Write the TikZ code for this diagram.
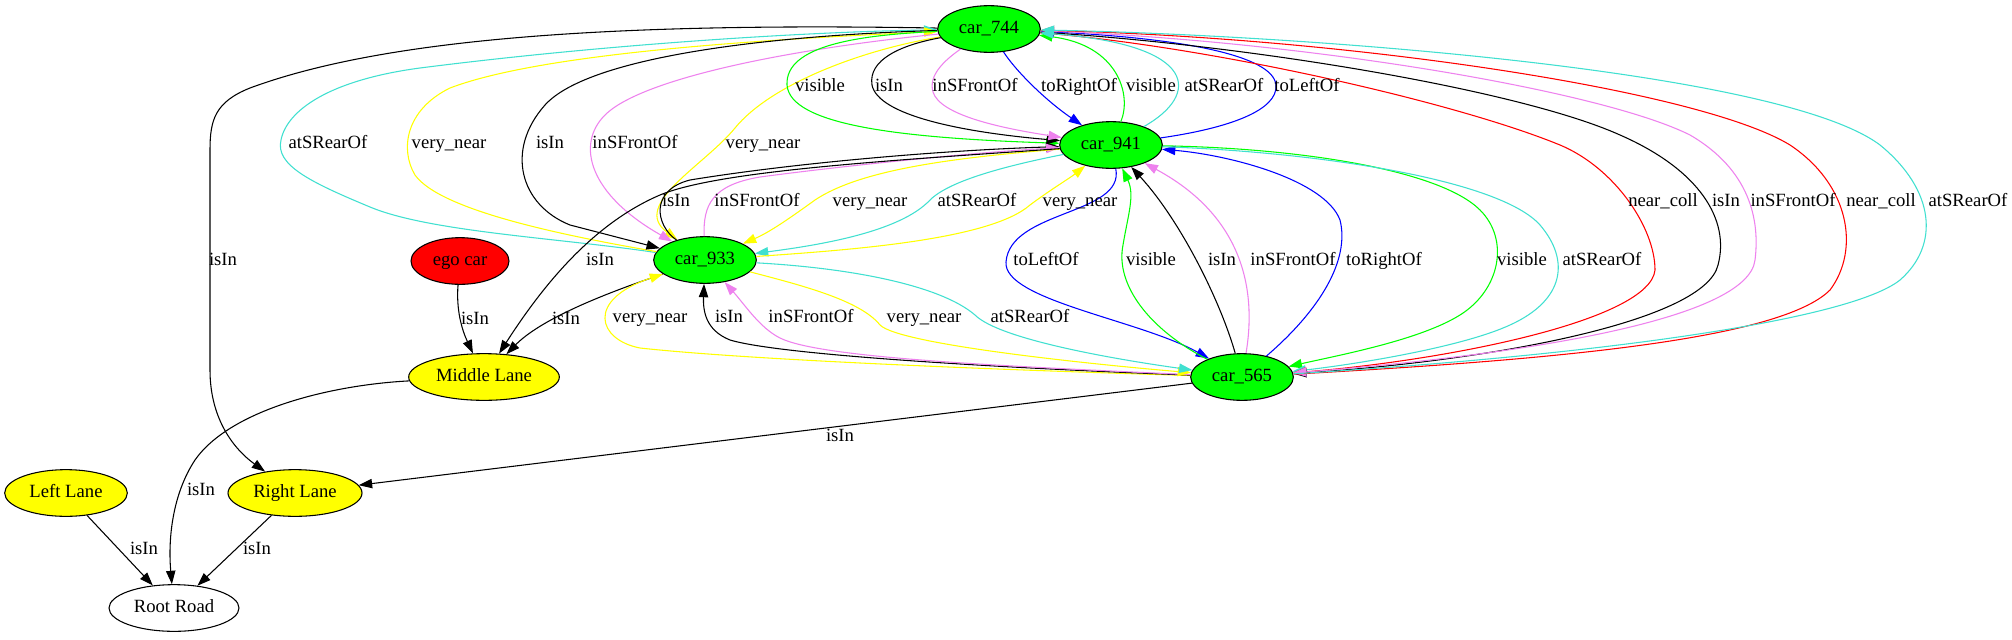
\documentclass[tikz,border=0pt]{standalone}
\usepackage{fontspec}
\setmainfont{Liberation Serif}
\usetikzlibrary{shapes.geometric,arrows.meta}
\definecolor{gvgreen}{HTML}{00FF00}
\definecolor{gvcyan}{HTML}{40E0D0}
\definecolor{gvviolet}{HTML}{EE82EE}
\definecolor{gvyellow}{HTML}{FFFF00}
\definecolor{gvblue}{HTML}{0000FF}
\definecolor{gvred}{HTML}{FF0000}
\newcommand\gvfont{\fontsize{14pt}{16pt}\selectfont}
\tikzset{
  gnode/.style={ellipse, draw, line width=0.8pt, minimum height=35pt, inner sep=0pt,
    font=\gvfont, text height=10pt, text depth=3pt},
  car/.style={gnode, fill=gvgreen, minimum width=77pt},
  lane/.style={gnode, fill=gvyellow},
  lbl/.style={inner sep=0pt, font=\gvfont, text height=10pt, text depth=3pt},
  e/.style={line width=0.8pt, -{Triangle[length=10pt,width=7pt]}},
}
\begin{document}
\begin{tikzpicture}[x=0.75pt, y=-0.75pt]
\fill[white] (0,0) rectangle (2012,639);
\useasboundingbox (0,0) rectangle (2012,639);

% nodes
\node[car] (c744) at (989,29) {car\_744};
\node[car] (c941) at (1111,145) {car\_941};
\node[car] (c933) at (705,260) {car\_933};
\node[car] (c565) at (1242,377) {car\_565};
\node[gnode, fill=gvred, minimum width=73.5pt] (ego) at (460,261) {ego car};
\node[lane, minimum width=113pt] (mid) at (484,377) {Middle Lane};
\node[lane, minimum width=92pt] (ll) at (66,493) {Left Lane};
\node[lane, minimum width=100.5pt] (rl) at (295,493) {Right Lane};
\node[gnode, minimum width=97.5pt] (root) at (174,608) {Root Road};

% edges: car_744 to the left
\draw[e] (c744) .. controls (600,22) and (380,40) .. (250,88) .. controls (215,102) and (210,120) .. (210,150) -- (210,370) .. controls (210,420) and (235,450) .. (rl);
\draw[e, gvcyan] (c933) .. controls (560,238) and (430,232) .. (370,207) .. controls (310,182) and (275,165) .. (281,140) .. controls (287,110) and (330,80) .. (420,68) .. controls (600,45) and (800,32) .. (c744);
\draw[e, gvyellow] (c933) .. controls (560,235) and (440,210) .. (415,175) .. controls (400,150) and (405,110) .. (450,88) .. controls (550,50) and (800,38) .. (c744);
\draw[e] (c744) .. controls (780,35) and (590,55) .. (545,105) .. controls (505,150) and (520,205) .. (570,225) -- (c933);
\draw[e, gvyellow] (c744) .. controls (860,50) and (770,85) .. (735,128) .. controls (705,165) and (630,205) .. (c933);
\draw[e, gvviolet] (c744) .. controls (780,50) and (640,80) .. (605,115) .. controls (575,145) and (590,195) .. (c933);

% car_744 <-> car_941
\draw[e, gvgreen] (c744) .. controls (860,35) and (785,45) .. (787,85) .. controls (790,125) and (900,138) .. (c941);
\draw[e] (c744) .. controls (900,45) and (868,60) .. (872,85) .. controls (878,115) and (960,132) .. (c941);
\draw[e, gvviolet] (c744) .. controls (945,60) and (928,75) .. (933,92) .. controls (940,115) and (1000,128) .. (c941);
\draw[e, gvblue] (c744) .. controls (1015,70) and (1045,100) .. (c941);
\draw[e, gvgreen] (c941) .. controls (1132,95) and (1118,45) .. (c744);
\draw[e, gvblue] (c941) .. controls (1230,128) and (1278,110) .. (1276,85) .. controls (1273,55) and (1180,38) .. (c744);

% car_933 <-> car_941
\draw[e] (c933) .. controls (655,225) and (650,190) .. (690,180) .. controls (800,162) and (950,150) .. (c941);
\draw[e, gvviolet] (c933) .. controls (703,205) and (712,185) .. (760,177) .. controls (850,165) and (980,152) .. (c941);
\draw[e, gvyellow] (c941) .. controls (950,158) and (860,170) .. (815,200) .. controls (790,218) and (770,232) .. (c933);
\draw[e, gvcyan] (c941) .. controls (1010,165) and (950,180) .. (930,200) .. controls (900,232) and (820,245) .. (c933);
\draw[e, gvyellow] (c933) .. controls (850,250) and (990,240) .. (1030,205) .. controls (1050,190) and (1070,178) .. (c941);

% lanes
\draw[e] (c941) .. controls (900,160) and (720,170) .. (660,195) .. controls (590,225) and (540,290) .. (mid);
\draw[e] (c933) .. controls (600,295) and (540,320) .. (mid);
\draw[e] (ego) .. controls (456,310) and (462,330) .. (mid);
\draw[e] (mid) .. controls (330,385) and (230,410) .. (195,460) .. controls (172,495) and (168,540) .. (root);
\draw[e] (ll) -- (root);
\draw[e] (rl) -- (root);
\draw[e] (c565) -- (rl);

% car_565 <-> car_933
\draw[e, gvyellow] (c565) .. controls (1000,370) and (750,360) .. (640,348) .. controls (598,340) and (585,300) .. (c933);
\draw[e] (c565) .. controls (1000,368) and (780,355) .. (730,340) .. controls (705,330) and (703,310) .. (c933);
\draw[e, gvviolet] (c565) .. controls (1000,366) and (820,358) .. (780,338) .. controls (760,328) and (745,305) .. (c933);
\draw[e, gvyellow] (c933) .. controls (800,285) and (860,300) .. (880,325) .. controls (900,345) and (1100,365) .. (c565);
\draw[e, gvcyan] (c933) .. controls (850,268) and (940,285) .. (975,315) .. controls (1000,340) and (1120,360) .. (c565);

% car_941 <-> car_565
\draw[e, gvblue] (c941) .. controls (1125,215) and (1010,210) .. (1006,262) .. controls (1003,300) and (1140,320) .. (c565);
\draw[e, gvgreen] (c565) .. controls (1150,330) and (1115,285) .. (1123,245) .. controls (1128,215) and (1135,195) .. (c941);
\draw[e] (c565) .. controls (1220,300) and (1180,220) .. (c941);
\draw[e, gvviolet] (c565) .. controls (1255,300) and (1250,220) .. (c941);
\draw[e, gvblue] (c565) .. controls (1320,310) and (1350,260) .. (1340,220) .. controls (1325,180) and (1230,155) .. (c941);
\draw[e, gvgreen] (c941) .. controls (1300,148) and (1440,170) .. (1480,210) .. controls (1510,240) and (1500,290) .. (1460,315) .. controls (1420,340) and (1340,355) .. (c565);
\draw[e, gvcyan] (c941) .. controls (1320,152) and (1500,180) .. (1540,225) .. controls (1570,260) and (1565,300) .. (1510,325) .. controls (1460,348) and (1350,365) .. (c565);

% car_744 <-> car_565
\draw[e, gvred] (c744) .. controls (1200,45) and (1450,100) .. (1560,145) .. controls (1615,168) and (1655,228) .. (1655,270) .. controls (1650,320) and (1450,360) .. (c565);
\draw[e] (c744) .. controls (1250,45) and (1520,90) .. (1620,135) .. controls (1700,170) and (1730,220) .. (1718,265) .. controls (1705,320) and (1500,360) .. (c565);
\draw[e, gvviolet] (c744) .. controls (1300,40) and (1600,90) .. (1690,135) .. controls (1750,170) and (1760,220) .. (1755,260) .. controls (1748,320) and (1520,355) .. (c565);
\draw[e, gvred] (c565) .. controls (1550,360) and (1780,340) .. (1830,290) .. controls (1860,250) and (1850,185) .. (1790,145) .. controls (1700,90) and (1350,38) .. (c744);
\draw[e, gvcyan] (c941) .. controls (1200,95) and (1200,45) .. (c744);
\draw[e, gvcyan] (c565) .. controls (1600,355) and (1850,320) .. (1900,280) .. controls (1940,245) and (1935,190) .. (1880,145) .. controls (1780,70) and (1300,35) .. (c744);

% labels
\node[lbl] (L1) at (223,261) {isIn};
\node[lbl] (L2) at (328,144) {atSRearOf};
\node[lbl] (L3) at (449,144) {very\_near};
\node[lbl] (L4) at (550,144) {isIn};
\node[lbl] (L5) at (635,144) {inSFrontOf};
\node[lbl] (L6) at (763,144) {very\_near};
\node[lbl] (L7) at (820,87) {visible};
\node[lbl] (L8) at (889,87) {isIn};
\node[lbl] (L9) at (975,87) {inSFrontOf};
\node[lbl] (L10) at (1079,87) {toRightOf};
\node[lbl] (L11) at (1151,87) {visible};
\node[lbl] (L12) at (1224,87) {atSRearOf};
\node[lbl] (L13) at (1307,87) {toLeftOf};
\node[lbl] (L14) at (676,202) {isIn};
\node[lbl] (L15) at (757,202) {inSFrontOf};
\node[lbl] (L16) at (870,202) {very\_near};
\node[lbl] (L17) at (977,202) {atSRearOf};
\node[lbl] (L18) at (1080,202) {very\_near};
\node[lbl] (L19) at (600,261) {isIn};
\node[lbl] (L20) at (566,320) {isIn};
\node[lbl] (L21) at (475,320) {isIn};
\node[lbl] (L22) at (201,491) {isIn};
\node[lbl] (L23) at (144,550) {isIn};
\node[lbl] (L24) at (257,550) {isIn};
\node[lbl] (L26) at (840,437) {isIn};
\node[lbl] (L27) at (650,318) {very\_near};
\node[lbl] (L28) at (729,318) {isIn};
\node[lbl] (L29) at (811,318) {inSFrontOf};
\node[lbl] (L30) at (924,318) {very\_near};
\node[lbl] (L31) at (1030,318) {atSRearOf};
\node[lbl] (L32) at (1046,261) {toLeftOf};
\node[lbl] (L33) at (1151,261) {visible};
\node[lbl] (L34) at (1222,261) {isIn};
\node[lbl] (L35) at (1293,261) {inSFrontOf};
\node[lbl] (L36) at (1384,261) {toRightOf};
\node[lbl] (L37) at (1522,261) {visible};
\node[lbl] (L38) at (1602,261) {atSRearOf};
\node[lbl] (L39) at (1663,202) {near\_coll};
\node[lbl] (L40) at (1726,202) {isIn};
\node[lbl] (L41) at (1793,202) {inSFrontOf};
\node[lbl] (L42) at (1881,202) {near\_coll};
\node[lbl] (L43) at (1968,202) {atSRearOf};
\end{tikzpicture}
\end{document}
